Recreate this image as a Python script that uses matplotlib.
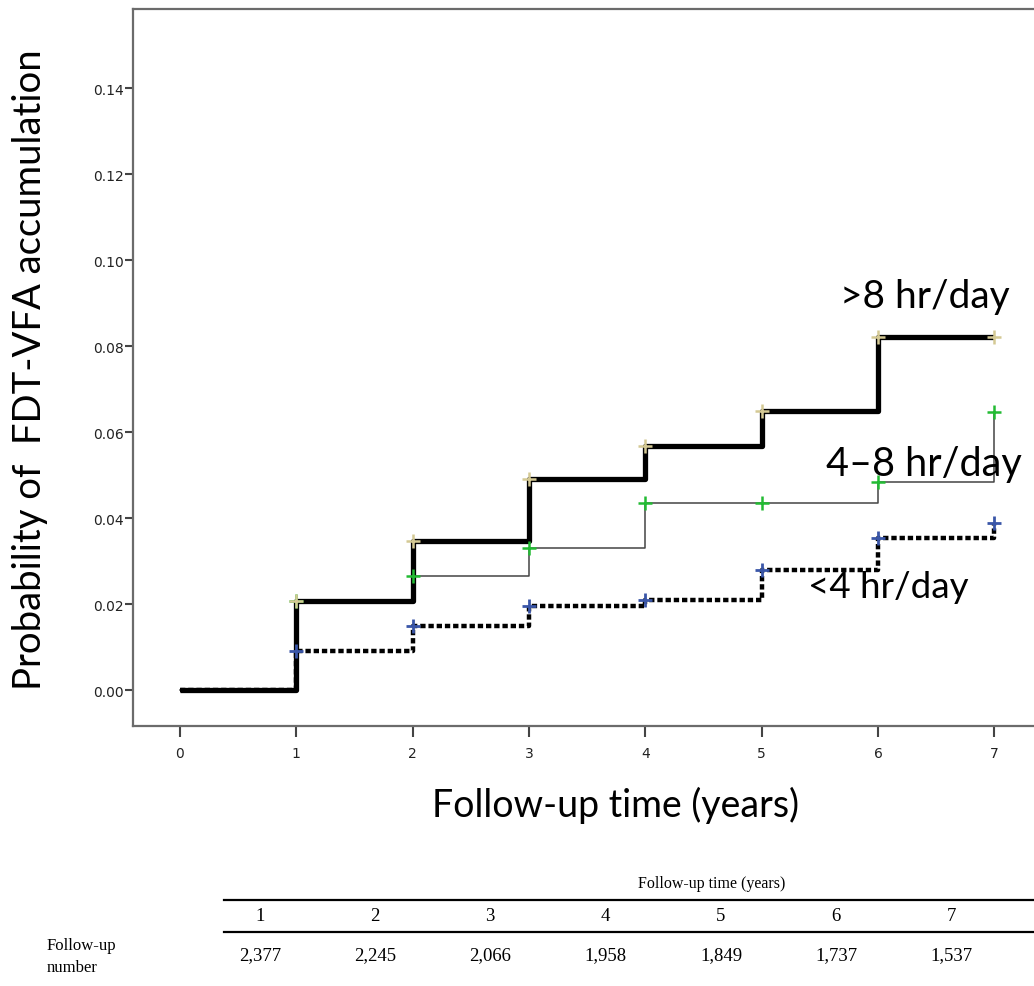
import numpy as np
import matplotlib
matplotlib.use("Agg")
import matplotlib.pyplot as plt
from matplotlib.lines import Line2D

# ---------- data ----------
years = [0, 1, 2, 3, 4, 5, 6, 7]
over8 = [0.0, 0.0208, 0.0347, 0.0491, 0.0569, 0.0649, 0.0821, 0.0821]
mid48 = [0.0, 0.0208, 0.0265, 0.0330, 0.0435, 0.0435, 0.0484, 0.0647]
under4 = [0.0, 0.0092, 0.0150, 0.0196, 0.0210, 0.0280, 0.0353, 0.0390]

group_labels = [">8 hr/day", "4\u20138 hr/day", "<4 hr/day"]

table_years = ["1", "2", "3", "4", "5", "6", "7"]
table_counts = ["2,377", "2,245", "2,066", "1,958", "1,849", "1,737", "1,537"]

# ---------- plot ----------
W, H = 1034, 987
fig = plt.figure(figsize=(W / 100, H / 100), dpi=100)
ax = fig.add_axes([133.3 / W, 1 - 727.3 / H, 1 - 133.3 / W, (727.3 - 10) / H])

big_font = "Lato"

# 4-8 hr/day: thin gray line
ax.step(years, mid48, where="post", color="#444444", lw=1.1, zorder=2)
# >8 hr/day: thick black line
ax.step(years, over8, where="post", color="black", lw=3.8, zorder=3,
        solid_capstyle="butt")
# <4 hr/day: thick dotted line
ax.step(years, under4, where="post", color="black", lw=3.2, zorder=4,
        linestyle=(0, (1.2, 0.65)))

# censor / step markers
ax.plot(years[1:], mid48[1:], "+", color="#22bb33", ms=10, mew=1.8, zorder=5)
ax.plot(years[1:], over8[1:], "+", color="#d4c994", ms=10, mew=1.8, zorder=6)
ax.plot(years[1:], under4[1:], "+", color="#3a56a8", ms=10, mew=2.0, zorder=6)

ax.set_xlim(-0.401, 7.34)
ax.set_ylim(-0.00837, 0.1584)
ax.set_xticks(range(8))
ax.set_yticks(np.arange(0, 0.141, 0.02))
ax.set_yticklabels([f"{v:.2f}" for v in np.arange(0, 0.141, 0.02)])

for s in ["left", "top", "bottom"]:
    ax.spines[s].set_color("#6b6b6b")
    ax.spines[s].set_linewidth(1.6)
ax.spines["right"].set_visible(False)
ax.tick_params(axis="y", length=6, width=1.5, color="#444444", pad=1,
               labelsize=10, labelcolor="#222222")
ax.tick_params(axis="x", length=8, width=1.5, color="#444444", pad=6,
               labelsize=10, labelcolor="#222222")

# axis titles
fig.text(616 / W, 1 - 805 / H, "Follow-up time (years)", ha="center", va="center",
         fontsize=27, family=big_font)
fig.text(30 / W, 1 - 370 / H, "Probability of  FDT-VFA accumulation", ha="center",
         va="center", rotation=90, fontsize=27.5, family=big_font)

# group labels
fig.text(840 / W, 1 - 297 / H, group_labels[0], ha="left", va="center",
         fontsize=28, family=big_font)
fig.text(826 / W, 1 - 465 / H, group_labels[1], ha="left", va="center",
         fontsize=28.5, family=big_font)
fig.text(808 / W, 1 - 588 / H, group_labels[2], ha="left", va="center",
         fontsize=26.5, family=big_font)

# ---------- follow-up table ----------
serif = "Liberation Serif"
fig.text(712 / W, 1 - 884 / H, "Follow-up time (years)", ha="center", va="center",
         fontsize=11.5, family=serif)
fig.add_artist(Line2D([224 / W, 1.0], [1 - 901 / H] * 2, color="black", lw=1.6))
fig.add_artist(Line2D([224 / W, 1.0], [1 - 933 / H] * 2, color="black", lw=1.6))
col_x = [260, 375, 490, 605, 721, 836, 951]
for cx, yr, n in zip(col_x, table_years, table_counts):
    fig.text(cx / W, 1 - 917 / H, yr, ha="center", va="center", fontsize=13.5,
             family=serif)
    fig.text(cx / W, 1 - 956 / H, n, ha="center", va="center", fontsize=13.5,
             family=serif)
fig.text(47 / W, 1 - 957 / H, "Follow-up\nnumber", ha="left", va="center",
         fontsize=12, family=serif, linespacing=1.45)

fig.savefig("out.png", dpi=100)
